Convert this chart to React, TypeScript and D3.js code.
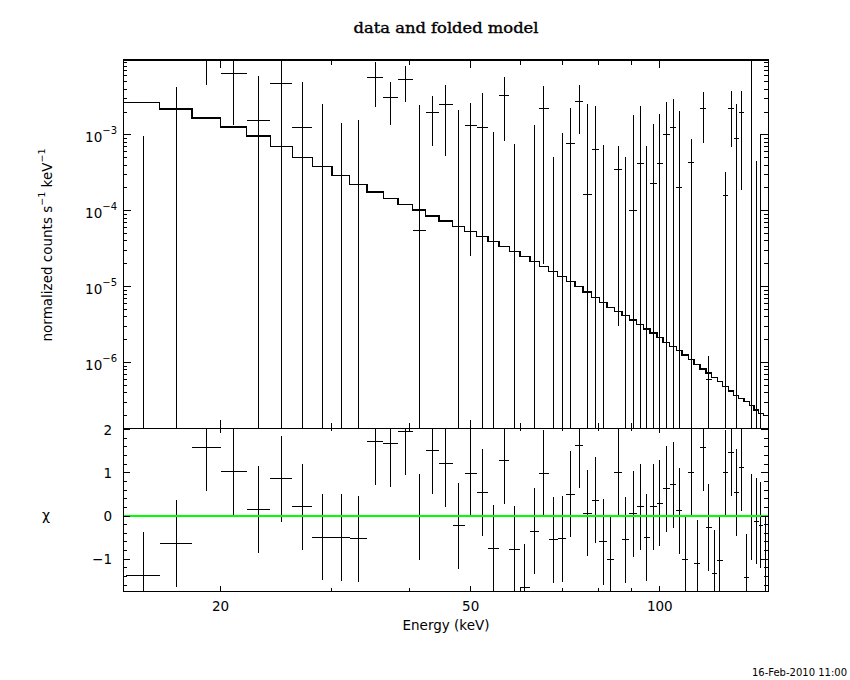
import React from "react";
import * as d3 from "d3";

// bin edges in keV (59 channels)
const binEdges = [
  14.16, 16.0, 18.0, 20.0, 22.0, 24.0, 26.0, 28.0, 30.1, 32.1, 34.2, 36.3, 38.3, 40.4, 42.4,
  44.5, 46.8, 48.9, 51.1, 53.3, 55.5, 57.6, 59.9, 62.1, 64.3, 66.5, 68.8, 71.0, 73.3, 75.5,
  77.9, 80.1, 82.4, 84.6, 87.0, 89.4, 91.9, 94.2, 96.5, 98.9, 101.1, 103.7, 106.2, 108.5, 111.0,
  113.4, 115.9, 118.4, 120.9, 123.4, 125.9, 128.5, 131.1, 133.5, 136.1, 138.8, 141.2, 143.6, 146.1,
  148.8,
];

// normalized counts s^-1 keV^-1
const rate = [
  -3.64e-3, -1.29e-3, 9.5e-3, 6.49e-3, 1.56e-3, 4.75e-3, 1.27e-3, -1.71e-3, -8.6e-4, -1.29e-3,
  5.75e-3, 3.13e-3, 5.41e-3, 5.43e-5, 1.99e-3, 2.54e-3, -5.6e-4, 1.34e-3, 1.27e-3, -2.92e-3,
  3.34e-3, -2.4e-3, -4.1e-3, -7.0e-4, 2.2e-3, -5.8e-4, -1.15e-3, 7.77e-4, 2.78e-3, 1.65e-4,
  6.47e-4, -1.09e-3, -2.03e-3, 3.53e-4, -6.2e-4, 1.02e-4, 4.24e-4, -7.2e-4, 2.31e-4, 4.24e-4,
  1.02e-3, 1.25e-3, 2.04e-4, -1.83e-3, 4.36e-4, -1.74e-3, 2.24e-3, 5.92e-7, -2.0e-3, -1.55e-3,
  1.6e-4, 2.24e-3, 9.04e-4, 1.99e-3, -2.14e-3, -3.0e-4, -6.1e-5, -2.7e-4, -1.22e-3,
];

const rateErr = [
  4.62e-3, 5.54e-3, 5.0e-3, 5.13e-3, 4.42e-3, 4.8e-3, 3.67e-3, 4.27e-3, 2.3e-3, 2.85e-3,
  3.4e-3, 1.8e-3, 2.7e-3, 2.43e-3, 1.27e-3, 2.02e-3, 2.69e-3, 1.315e-3, 2.27e-3, 4.0e-3,
  2.5e-3, 3.15e-3, 2.5e-3, 2.05e-3, 2.18e-3, 1.09e-3, 2.2e-3, 1.47e-3, 1.76e-3, 2.37e-3,
  1.76e-3, 1.83e-3, 2.0e-3, 3.5e-4, 1.13e-3, 1.74e-3, 1.99e-3, 1.44e-3, 1.17e-3, 1.47e-3,
  1.7e-3, 1.76e-3, 1.87e-3, 1.8e-3, 4.5e-4, 1.6e-3, 1.45e-3, 6.1e-7, 1.5e-3, 1.5e-3,
  1.65e-4, 1.55e-3, 1.66e-3, 1.8e-3, 1.5e-3, 1.5e-2, 5.07e-4, 1.3e-3, 1.2e-3,
];

// folded model
const model = [
  2.69e-3, 2.2e-3, 1.66e-3, 1.27e-3, 9.7e-4, 7.02e-4, 5.08e-4, 3.83e-4, 2.91e-4, 2.22e-4,
  1.77e-4, 1.45e-4, 1.22e-4, 1.02e-4, 8.57e-5, 7.36e-5, 6.2e-5, 5.32e-5, 4.58e-5, 3.94e-5,
  3.38e-5, 2.9e-5, 2.49e-5, 2.14e-5, 1.84e-5, 1.58e-5, 1.36e-5, 1.17e-5, 1.0e-5, 8.46e-6,
  7.26e-6, 6.24e-6, 5.36e-6, 4.7e-6, 4.17e-6, 3.65e-6, 3.2e-6, 2.78e-6, 2.44e-6, 2.14e-6,
  1.85e-6, 1.63e-6, 1.43e-6, 1.26e-6, 1.09e-6, 9.5e-7, 8.26e-7, 7.24e-7, 6.35e-7, 5.62e-7,
  4.83e-7, 4.24e-7, 3.68e-7, 3.36e-7, 3.07e-7, 2.72e-7, 2.38e-7, 2.15e-7, 1.99e-7,
];

// residuals (chi)
const chi = [
  -1.37, -0.63, 1.58, 1.02, 0.15, 0.86, 0.21, -0.49, -0.5, -0.53,
  1.72, 1.67, 1.95, -0.02, 1.52, 1.21, -0.23, 0.98, 0.54, -0.74,
  1.28, -0.77, -1.65, -0.35, 0.98, -0.55, -0.53, 0.51, 1.64, 0.07,
  0.37, -0.6, -1.0, 1.01, -0.55, 0.05, 0.21, -0.5, 0.21, 0.3,
  0.63, 0.72, 0.12, -1.0, 1.01, -1.09, 1.58, -0.26, -1.33, -1.02,
  1.0, 1.47, 0.54, 1.12, -1.42, -0.02, -0.12, -0.21, -1.0,
];

const xTickLabels = [20, 50, 100];
const chiTickLabels = [-1, 0, 1, 2];

const W = 850;
const H = 680;
const left = 123.3;
const right = 768.3;
const top1 = 60;
const mid = 428.3;
const bottom2 = 591.7;

const sans = "'DejaVu Sans', sans-serif";

export default function App() {
  const x = d3.scaleLog().domain([14, 148.8]).range([left, right]);
  const y = d3.scaleLog().domain([1.36e-7, 9.7e-3]).range([mid, top1]);
  const yc = d3.scaleLinear().domain([-1.75, 2.03]).range([bottom2, mid]);
  const [yMin, yMax] = y.domain();

  const bins = rate.map((r, i) => ({
    lo: binEdges[i],
    hi: binEdges[i + 1],
    mid: (binEdges[i] + binEdges[i + 1]) / 2,
    r,
    e: rateErr[i],
    m: model[i],
    c: chi[i],
  }));

  // model drawn as a histogram, starting at the left frame
  const modelPath = d3.line()(
    bins.flatMap((b, i) => [
      [i === 0 ? left : x(b.lo), y(b.m)] as [number, number],
      [x(b.hi), y(b.m)] as [number, number],
    ])
  );

  const xTicks = x.ticks();
  const yTicks = y.ticks();
  const chiMinor = d3.range(-1.6, 2.01, 0.2).map((v) => Math.round(v * 10) / 10);

  const isDecade = (t: number) => Math.abs(Math.log10(t) - Math.round(Math.log10(t))) < 1e-6;

  const line = (k: string, x1: number, y1: number, x2: number, y2: number) => (
    <line key={k} x1={x1} y1={y1} x2={x2} y2={y2} stroke="#000" strokeWidth={1} />
  );

  return (
    <svg
      width={W}
      height={H}
      style={{ position: "absolute", left: 0, top: 0, background: "#fff" }}
      shapeRendering="crispEdges"
    >
      <rect width={W} height={H} fill="#fff" />
      <defs>
        <clipPath id="clipTop">
          <rect x={left} y={top1} width={right - left} height={mid - top1} />
        </clipPath>
        <clipPath id="clipBot">
          <rect x={left} y={mid} width={right - left} height={bottom2 - mid} />
        </clipPath>
      </defs>

      {/* title */}
      <text
        x={446}
        y={33}
        textAnchor="middle"
        fontFamily="'DejaVu Serif', serif"
        fontSize={14}
        textLength={185}
        lengthAdjust="spacingAndGlyphs"
        stroke="#000"
        strokeWidth={0.35}
      >
        data and folded model
      </text>

      {/* top panel: data and model */}
      <g clipPath="url(#clipTop)">
        {bins.map((b, i) => {
          const up = b.r + b.e;
          const lo = b.r - b.e;
          const out: React.ReactNode[] = [];
          if (up > yMin) {
            const y1 = up >= yMax ? top1 : y(up);
            const y2 = lo <= yMin ? mid : y(lo);
            out.push(line(`v${i}`, x(b.mid), y1, x(b.mid), y2));
          }
          if (b.r > yMin && b.r < yMax) {
            out.push(line(`h${i}`, x(b.lo), y(b.r), x(b.hi), y(b.r)));
          }
          return <g key={i}>{out}</g>;
        })}
        <path d={modelPath ?? ""} fill="none" stroke="#000" strokeWidth={1.4} />
      </g>

      {/* bottom panel: residuals */}
      <g clipPath="url(#clipBot)">
        {bins.map((b, i) => (
          <g key={i}>
            {line(`rv${i}`, x(b.mid), yc(b.c + 1), x(b.mid), yc(b.c - 1))}
            {line(`rh${i}`, x(b.lo), yc(b.c), x(b.hi), yc(b.c))}
          </g>
        ))}
        <line x1={left} x2={right} y1={yc(0)} y2={yc(0)} stroke="#00ff00" strokeWidth={1.3} />
      </g>

      {/* frames */}
      <rect x={left} y={top1} width={right - left} height={mid - top1} fill="none" stroke="#000" strokeWidth={1.2} />
      <rect x={left} y={mid} width={right - left} height={bottom2 - mid} fill="none" stroke="#000" strokeWidth={1.2} />
      <line x1={left} x2={right} y1={top1} y2={top1} stroke="#000" strokeWidth={2} />

      {/* x ticks */}
      {xTicks.map((t, i) => {
        const major = xTickLabels.includes(t);
        const px = x(t);
        const a = major ? 8 : 5;
        const b = major ? 5 : 3;
        return (
          <g key={`xt${i}`}>
            {line("a", px, top1, px, top1 + a)}
            {line("b", px, mid, px, mid - a)}
            {line("c", px, mid, px, mid + b)}
            {line("d", px, bottom2, px, bottom2 - b - 1)}
          </g>
        );
      })}
      {xTickLabels.map((t) => (
        <text key={`xl${t}`} x={x(t)} y={610.5} textAnchor="middle" fontFamily={sans} fontSize={13.5}>
          {t}
        </text>
      ))}

      {/* top y ticks */}
      {yTicks.map((t, i) => {
        const major = isDecade(t);
        const py = y(t);
        const len = major ? 8 : 4;
        return (
          <g key={`yt${i}`}>
            {line("l", left, py, left + len, py)}
            {line("r", right, py, right - len, py)}
          </g>
        );
      })}
      {yTicks.filter(isDecade).map((t) => (
        <text key={`yl${t}`} x={117} y={y(t) + 7} textAnchor="end" fontFamily={sans} fontSize={13.5}>
          10
          <tspan dy={-8} fontSize={10}>
            {"\u2212" + Math.abs(Math.round(Math.log10(t)))}
          </tspan>
        </text>
      ))}

      {/* chi ticks */}
      {chiMinor.map((t, i) => {
        const major = chiTickLabels.includes(t);
        const py = yc(t);
        const len = major ? 7 : 4;
        return (
          <g key={`ct${i}`}>
            {line("l", left, py, left + len, py)}
            {line("r", right, py, right - len, py)}
          </g>
        );
      })}
      {chiTickLabels.map((t) => (
        <text key={`cl${t}`} x={112} y={yc(t) + 5} textAnchor="end" fontFamily={sans} fontSize={13.5}>
          {t < 0 ? "\u2212" + Math.abs(t) : t}
        </text>
      ))}

      {/* axis labels */}
      <text
        transform={`translate(52,245) rotate(-90)`}
        textAnchor="middle"
        fontFamily={sans}
        fontSize={13.5}
      >
        normalized counts s
        <tspan dy={-7} fontSize={9.5}>{"\u22121"}</tspan>
        <tspan dy={7}>{"  keV"}</tspan>
        <tspan dy={-7} fontSize={9.5}>{"\u22121"}</tspan>
      </text>
      <text x={46} y={520} textAnchor="middle" fontFamily={sans} fontSize={14}>
        χ
      </text>
      <text x={446} y={630} textAnchor="middle" fontFamily={sans} fontSize={13.5}>
        Energy (keV)
      </text>

      <text x={847} y={675.5} textAnchor="end" fontFamily={sans} fontSize={10}>
        16-Feb-2010 11:00
      </text>
    </svg>
  );
}
